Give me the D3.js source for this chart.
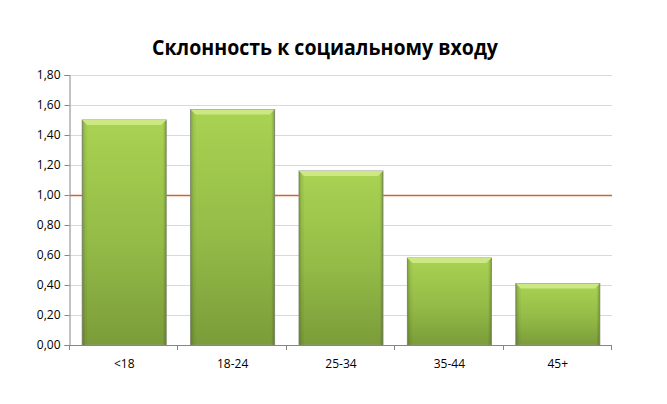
<!DOCTYPE html>
<html>
<head>
<meta charset="utf-8">
<script src="https://cdn.jsdelivr.net/npm/d3@7"></script>
<style>
  body { margin: 0; background: #fff; }
  svg text { font-family: "Open Sans", "DejaVu Sans", sans-serif; }
</style>
</head>
<body>
<svg id="chart" width="667" height="404"></svg>
<script>
// Data
var title = "Склонность к социальному входу";
var categories = ["<18", "18-24", "25-34", "35-44", "45+"];
var values = [1.50, 1.57, 1.16, 0.58, 0.41];
var yTicks = [0, 0.2, 0.4, 0.6, 0.8, 1.0, 1.2, 1.4, 1.6, 1.8];
var refValue = 1.0;

var width = 667,
    height = 404,
    margin = {top: 75, right: 55, bottom: 59, left: 70};

var svg = d3.select("#chart");

var x = d3.scaleBand()
    .domain(categories)
    .range([margin.left, width - margin.right])
    .paddingInner(0.225)
    .paddingOuter(0.1125);

var y = d3.scaleLinear()
    .domain([0, 1.8])
    .range([height - margin.bottom, margin.top]);

var fmt = function(d) { return d3.format(".2f")(d).replace(".", ","); };

// Gradients
var defs = svg.append("defs");
var grad = defs.append("linearGradient")
    .attr("id", "barGrad")
    .attr("x1", 0).attr("y1", 0).attr("x2", 0).attr("y2", 1);
grad.append("stop").attr("offset", "0%").attr("stop-color", "#a9d352");
grad.append("stop").attr("offset", "55%").attr("stop-color", "#93bb47");
grad.append("stop").attr("offset", "100%").attr("stop-color", "#7b9c3a");

var side = defs.append("linearGradient")
    .attr("id", "sideGrad")
    .attr("x1", 0).attr("y1", 0).attr("x2", 1).attr("y2", 0);
side.append("stop").attr("offset", "0%").attr("stop-color", "#000").attr("stop-opacity", 0.18);
side.append("stop").attr("offset", "4%").attr("stop-color", "#000").attr("stop-opacity", 0);
side.append("stop").attr("offset", "96%").attr("stop-color", "#000").attr("stop-opacity", 0);
side.append("stop").attr("offset", "100%").attr("stop-color", "#000").attr("stop-opacity", 0.22);

// Title
svg.append("text")
    .attr("x", 325)
    .attr("y", 55)
    .attr("text-anchor", "middle")
    .style("font-size", "21px")
    .style("font-weight", "bold")
    .attr("textLength", 346)
    .attr("lengthAdjust", "spacingAndGlyphs")
    .text(title);

// Grid lines
svg.append("g")
    .selectAll("line")
    .data(yTicks.filter(function(d) { return d > 0; }))
    .enter()
    .append("line")
    .attr("x1", margin.left)
    .attr("x2", width - margin.right)
    .attr("y1", function(d) { return Math.round(y(d)) + 0.5; })
    .attr("y2", function(d) { return Math.round(y(d)) + 0.5; })
    .attr("stroke", "#d9d9d9")
    .attr("stroke-width", 1);

// Reference line
svg.append("line")
    .attr("x1", margin.left)
    .attr("x2", width - margin.right)
    .attr("y1", Math.round(y(refValue)) + 0.5)
    .attr("y2", Math.round(y(refValue)) + 0.5)
    .attr("stroke", "#d8602c")
    .attr("stroke-width", 1.5);

// Bars
var bars = svg.append("g")
    .selectAll("g")
    .data(values)
    .enter()
    .append("g");

bars.append("rect")
    .attr("x", function(d, i) { return x(categories[i]); })
    .attr("y", function(d) { return y(d); })
    .attr("width", x.bandwidth())
    .attr("height", function(d) { return y(0) - y(d); })
    .attr("fill", "url(#barGrad)")
    .attr("stroke", "#8f9a7c")
    .attr("stroke-width", 1);

bars.append("rect")
    .attr("x", function(d, i) { return x(categories[i]); })
    .attr("y", function(d) { return y(d); })
    .attr("width", x.bandwidth())
    .attr("height", function(d) { return y(0) - y(d); })
    .attr("fill", "url(#sideGrad)");

// top bevel
bars.append("path")
    .attr("d", function(d, i) {
        var x0 = x(categories[i]), x1 = x0 + x.bandwidth(), t = y(d), b = 5;
        return "M" + x0 + "," + t + "L" + x1 + "," + t +
               "L" + (x1 - b) + "," + (t + b) + "L" + (x0 + b) + "," + (t + b) + "Z";
    })
    .attr("fill", "#cbe882");

bars.append("path")
    .attr("d", function(d, i) {
        var x0 = x(categories[i]), x1 = x0 + x.bandwidth(), t = y(d), b = 5;
        return "M" + x0 + "," + t + "L" + (x0 + b) + "," + (t + b) +
               "L" + (x0 + b) + "," + y(0) + "L" + x0 + "," + y(0) + "Z";
    })
    .attr("fill", "#000").attr("fill-opacity", 0.04);

// Y axis
var yAxis = svg.append("g")
    .attr("transform", "translate(" + (margin.left - 0.5) + ",0)")
    .call(d3.axisLeft(y).tickValues(yTicks).tickFormat(fmt).tickSize(5).tickPadding(4));
yAxis.select(".domain").attr("stroke", "#868686");
yAxis.selectAll(".tick line").attr("stroke", "#868686");
yAxis.selectAll("text").style("font-size", "12px").attr("fill", "#000");

// X axis
var xAxis = svg.append("g")
    .attr("transform", "translate(0," + (y(0) + 0.5) + ")")
    .call(d3.axisBottom(x).tickSize(0).tickPadding(14));
xAxis.select(".domain").attr("stroke", "#868686").attr("d", "M" + margin.left + ",0H" + (width - margin.right));
xAxis.selectAll("text").style("font-size", "12px").attr("fill", "#000");

// category boundary ticks
svg.append("g")
    .selectAll("line")
    .data(d3.range(categories.length + 1))
    .enter()
    .append("line")
    .attr("x1", function(i) { return Math.round(margin.left + i * (width - margin.right - margin.left) / categories.length) - 0.5; })
    .attr("x2", function(i) { return Math.round(margin.left + i * (width - margin.right - margin.left) / categories.length) - 0.5; })
    .attr("y1", y(0))
    .attr("y2", y(0) + 5)
    .attr("stroke", "#868686");
</script>
</body>
</html>
